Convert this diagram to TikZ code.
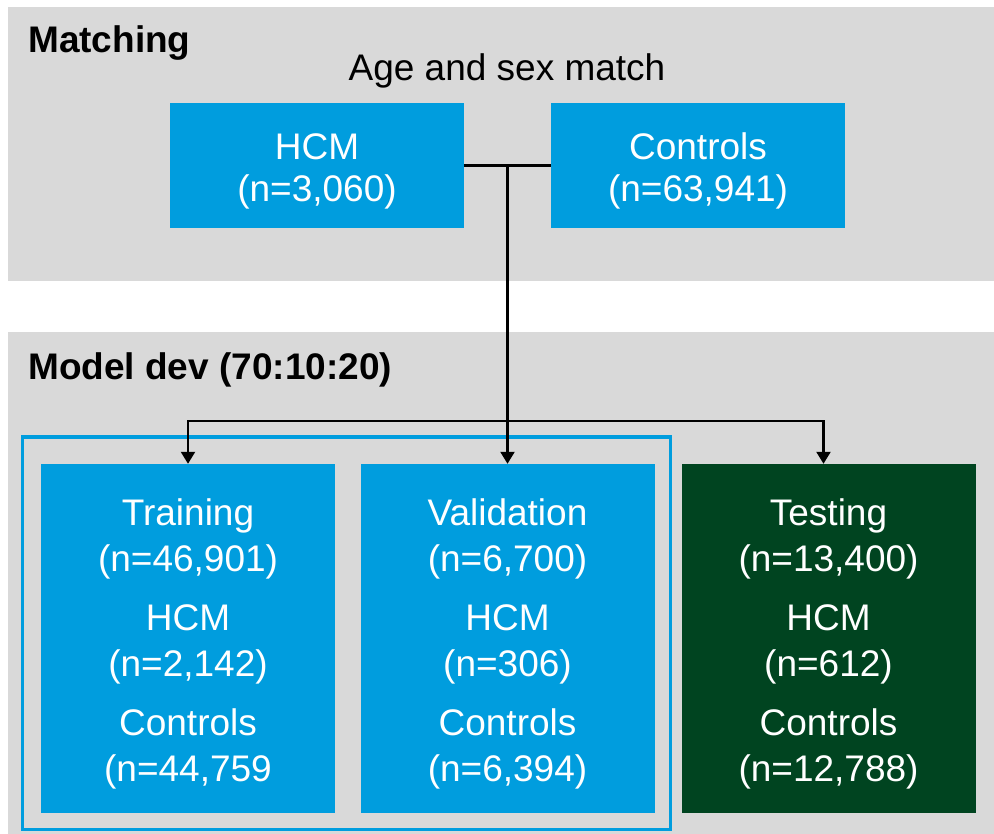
\documentclass[tikz,border=0pt]{standalone}
\usepackage{fontspec}
\setmainfont{Liberation Sans}
\usetikzlibrary{arrows.meta,calc}
\definecolor{panelgray}{HTML}{D9D9D9}
\definecolor{boxblue}{HTML}{009DDE}
\definecolor{boxgreen}{HTML}{004420}
\newcommand{\topstrut}{\rule{0pt}{37pt}}
\tikzset{
  panel/.style={fill=panelgray, draw=none},
  topbox/.style={fill=boxblue, draw=none, text=white, align=center,
    minimum width=294pt, minimum height=125pt, inner sep=0pt,
    font=\fontsize{37}{42}\selectfont},
  splitbox/.style={fill=boxblue, draw=none, text=white, align=center,
    minimum width=294pt, minimum height=349pt, inner sep=0pt,
    font=\fontsize{37}{46}\selectfont},
  heading/.style={anchor=base west, inner sep=0pt, font=\fontsize{37}{42}\selectfont\bfseries},
  label/.style={anchor=base, inner sep=0pt, font=\fontsize{37}{42}\selectfont},
  conn/.style={draw=black, line width=2.2pt},
  arr/.style={conn, -{Triangle[length=12pt,width=14pt]}},
}
\begin{document}
\begin{tikzpicture}[x=1pt,y=-1pt]
\useasboundingbox (0,0) rectangle (994,834);
\fill[white] (0,0) rectangle (994,834);
% panels
\fill[panel] (8,7) rectangle (994,281);
\fill[panel] (8,332) rectangle (994,834);
% headings
\node[heading] (h1) at (28,53) {Matching};
\node[heading] (h2) at (28,380) {Model dev (70:10:20)};
\node[label] (age) at (507,81) {Age and sex match};
% top boxes
\node[topbox] (hcm) at (317,165.5) {\topstrut HCM\\(n=3,060)};
\node[topbox] (ctrl) at (698,165.5) {\topstrut Controls\\(n=63,941)};
% outline around training + validation
\draw[boxblue, line width=3.2pt] (22.5,437) rectangle (670.5,829.5);
% bottom boxes
\node[splitbox] (train) at (188,638.5) {\topstrut Training\\(n=46,901)\\[13pt]HCM\\(n=2,142)\\[13pt]Controls\\(n=44,759};
\node[splitbox] (val) at (507.5,638.5) {\topstrut Validation\\(n=6,700)\\[13pt]HCM\\(n=306)\\[13pt]Controls\\(n=6,394)};
\node[splitbox, fill=boxgreen] (test) at (828.5,638.5) {\topstrut Testing\\(n=13,400)\\[13pt]HCM\\(n=612)\\[13pt]Controls\\(n=12,788)};
% connectors
\coordinate (j1) at ($(hcm.east)!0.5!(ctrl.west)$);
\coordinate (j2) at ($(j1)+(0,255.5)$);
\draw[conn] (hcm.east) -- (ctrl.west);
\draw[conn] (j1) -- (j2);
\draw[arr] (j2) -- (j2 |- val.north);
\draw[arr] (j2) -| (train.north);
\draw[arr] (j2) -| ([xshift=-5pt]test.north);
\end{tikzpicture}
\end{document}
